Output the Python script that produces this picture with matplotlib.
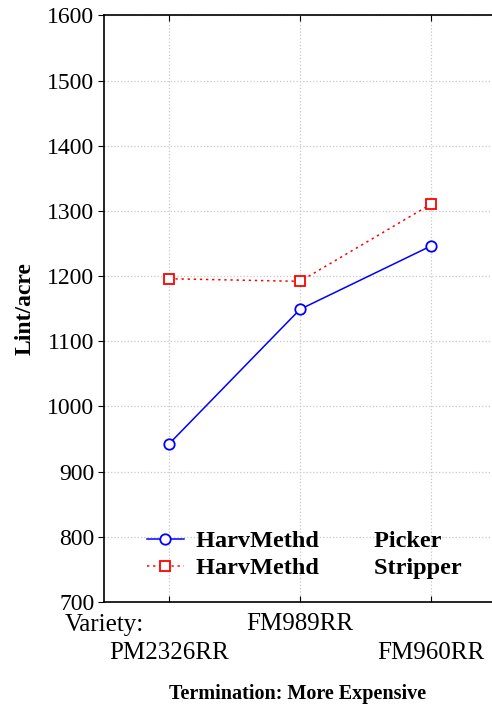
import matplotlib
matplotlib.use('Agg')
import matplotlib.pyplot as plt

plt.rcParams['font.family'] = ['Liberation Serif', 'DejaVu Serif']

# data
varieties = ['PM2326RR', 'FM989RR', 'FM960RR']
picker = [943, 1149, 1246]
stripper = [1196, 1192, 1310]
yticks = [700, 800, 900, 1000, 1100, 1200, 1300, 1400, 1500, 1600]

fig = plt.figure(figsize=(4.92, 7.11), dpi=100)
ax = fig.add_axes([0.2114, 0.1533, 0.7886, 0.825])

x = list(range(len(varieties)))
ax.plot(x, picker, color='blue', lw=1.1, marker='o', ms=7.5,
        mfc='white', mec='blue', mew=1.3,
        label='HarvMethd         Picker')
ax.plot(x, stripper, color='red', lw=1.1, ls=(0, (1.5, 2.5)), marker='s', ms=7.5,
        mfc='white', mec='red', mew=1.3,
        label='HarvMethd         Stripper')

ax.set_xlim(-0.5, 2.47)
ax.set_ylim(700, 1600)
ax.set_yticks(yticks)
# staggered labels: middle one on the first row, outer ones one row lower
ax.set_xticks([x[1]], [varieties[1]], fontsize=18)
ax.set_xticks([x[0], x[2]], [varieties[0], varieties[2]], minor=True, fontsize=18)
ax.tick_params(axis='y', direction='out', length=4, labelsize=17, pad=3)
ax.tick_params(axis='x', which='both', direction='in', length=4, width=0.8, top=True)
ax.tick_params(axis='x', which='major', pad=8)
ax.tick_params(axis='x', which='minor', pad=29)
ax.spines['right'].set_visible(False)
for s in ['left', 'bottom', 'top']:
    ax.spines[s].set_linewidth(1.2)

ax.grid(True, which='both', color='#c8c8c8', ls=':', lw=0.9)
ax.set_axisbelow(True)

ax.set_ylabel('Lint/acre', fontsize=17, fontweight='bold', labelpad=8)
ax.text(-0.1005, -0.039, 'Variety:', transform=ax.transAxes, fontsize=18,
        ha='left', va='center')
ax.text(0.5, -0.156, 'Termination: More Expensive', transform=ax.transAxes,
        fontsize=14.5, fontweight='bold', ha='center', va='center')

leg = ax.legend(loc='upper left', bbox_to_anchor=(0.111, 0.122), frameon=False,
                prop={'weight': 'bold', 'size': 17.5}, handlelength=1.5,
                handletextpad=0.5, labelspacing=0.2, borderpad=0,
                borderaxespad=0)

fig.savefig('out.png', dpi=100)
